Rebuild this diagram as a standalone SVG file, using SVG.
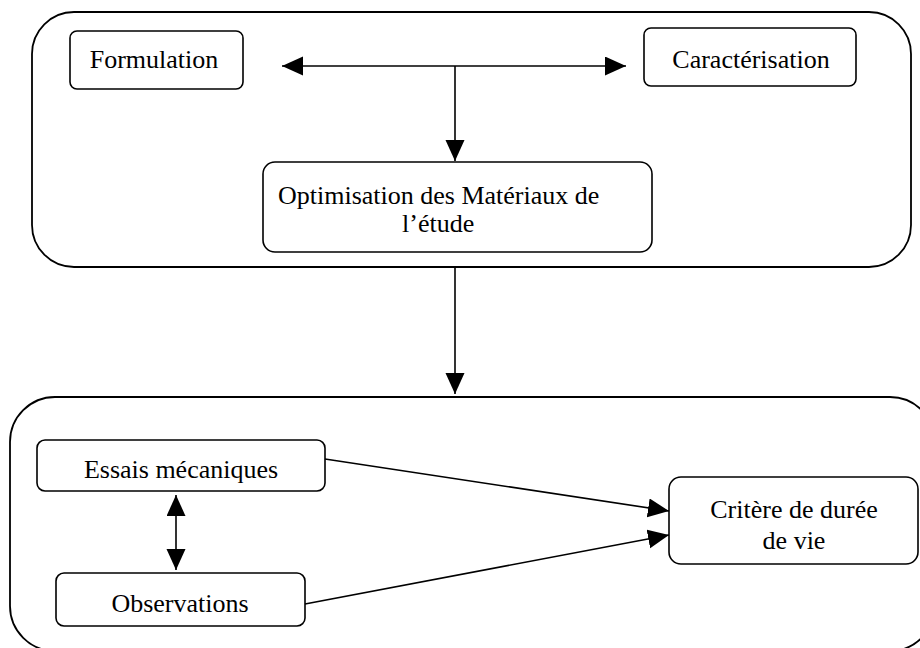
<svg xmlns="http://www.w3.org/2000/svg" width="920" height="648" viewBox="0 0 920 648">
<style>
.box{fill:#fff;stroke:#000;stroke-width:1.6}
.grp{fill:none;stroke:#000;stroke-width:1.8}
.lbl{font-family:"Liberation Serif","Times New Roman",serif;font-size:26px;fill:#000}
.c{text-anchor:middle}
.con{stroke:#000;stroke-width:1.6;fill:none}
</style>
<defs>
<marker id="ah" markerUnits="userSpaceOnUse" markerWidth="22" markerHeight="20" refX="21" refY="9.5" orient="auto-start-reverse" viewBox="0 0 22 20">
<path d="M0,0 L21,9.5 L0,19 z" fill="#000"/>
</marker>
</defs>
<rect width="920" height="648" fill="#fff"/>
<g id="group-top">
<rect class="grp" x="32" y="12" width="879" height="255" rx="42" ry="42"/>
</g>
<g id="group-bottom">
<rect class="grp" x="10" y="397" width="925" height="254" rx="45" ry="45"/>
</g>
<g id="node-formulation">
<rect class="box" x="70" y="31" width="173" height="58" rx="7"/>
<text class="lbl c" x="154" y="68">Formulation</text>
</g>
<g id="node-caracterisation">
<rect class="box" x="644" y="28" width="212" height="58" rx="7"/>
<text class="lbl c" x="751" y="68">Caractérisation</text>
</g>
<g id="node-optimisation">
<rect class="box" x="263" y="162" width="389" height="90" rx="12"/>
<text class="lbl" x="278" y="204">Optimisation des Matériaux de</text>
<text class="lbl" x="402" y="232">l’étude</text>
</g>
<g id="node-essais">
<rect class="box" x="37" y="440" width="288" height="51" rx="8"/>
<text class="lbl c" x="181" y="478">Essais mécaniques</text>
</g>
<g id="node-observations">
<rect class="box" x="56" y="573" width="249" height="53" rx="8"/>
<text class="lbl c" x="180" y="612">Observations</text>
</g>
<g id="node-critere">
<rect class="box" x="669" y="477" width="249" height="87" rx="12"/>
<text class="lbl c" x="794" y="518">Critère de durée</text>
<text class="lbl c" x="794" y="549">de vie</text>
</g>
<g id="connectors">
<line class="con" x1="282" y1="66" x2="626" y2="66" marker-start="url(#ah)" marker-end="url(#ah)"/>
<line class="con" x1="455" y1="66" x2="455" y2="161" marker-end="url(#ah)"/>
<line class="con" x1="455" y1="267" x2="455" y2="394" marker-end="url(#ah)"/>
<line class="con" x1="176" y1="495" x2="176" y2="570" marker-start="url(#ah)" marker-end="url(#ah)"/>
<line class="con" x1="325" y1="459" x2="669" y2="511" marker-end="url(#ah)"/>
<line class="con" x1="305" y1="604" x2="669" y2="535" marker-end="url(#ah)"/>
</g>
</svg>
